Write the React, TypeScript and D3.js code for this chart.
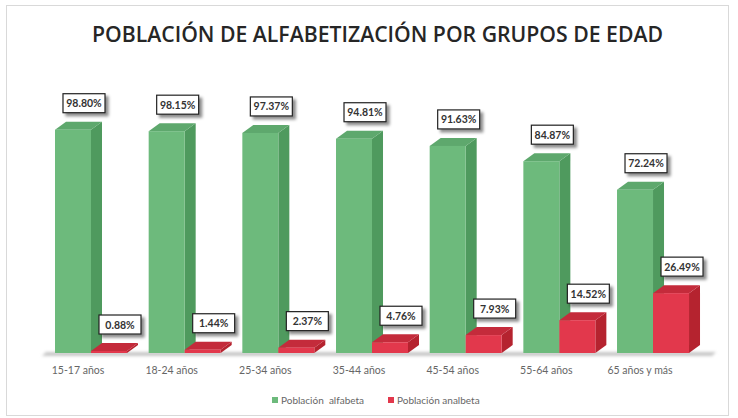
import React from "react";
import * as d3 from "d3";

const categories = ["15-17 años", "18-24 años", "25-34 años", "35-44 años", "45-54 años", "55-64 años", "65 años y más"];
const alfabeta = [98.8, 98.15, 97.37, 94.81, 91.63, 84.87, 72.24];
const analfabeta = [0.88, 1.44, 2.37, 4.76, 7.93, 14.52, 26.49];
const seriesNames = ["Población  alfabeta", "Población analbeta"];

const W = 738, H = 418;
const DX = 11, DY = 8, BW = 36;

const green = { front: "#6dba7c", side: "#4f9a5e", top: "#5ea86d" };
const red = { front: "#e2384c", side: "#b5232f", top: "#c42b3b" };

export default function App() {
  const x = d3.scaleBand<string>().domain(categories).range([55, 55 + 93.67 * categories.length]).paddingInner(0).paddingOuter(0);
  const y = d3.scaleLinear().domain([0, 100]).range([353, 127]);
  const fmt = (v: number) => v.toFixed(2) + "%";

  const bar3d = (x0: number, v: number, c: { front: string; side: string; top: string }, key: string) => {
    const y0 = y(0), y1 = y(v);
    const x1 = x0 + BW;
    return (
      <g key={key}>
        <polygon points={`${x1},${y1} ${x1 + DX},${y1 - DY} ${x1 + DX},${y0 - DY} ${x1},${y0}`} fill={c.side} />
        <polygon points={`${x0},${y1} ${x0 + DX},${y1 - DY} ${x1 + DX},${y1 - DY} ${x1},${y1}`} fill={c.top} />
        <rect x={x0} y={y1} width={BW} height={Math.max(0, y0 - y1)} fill={c.front} />
      </g>
    );
  };

  const label = (x0: number, v: number, key: string) => {
    const cx = x0 + BW / 2 + 11;
    const by = y(v) - 17;
    const bw = 42, bh = 19;
    return (
      <g key={key}>
        <rect x={cx - bw / 2} y={by - bh} width={bw} height={bh} fill="#ffffff" stroke="#222" strokeWidth={1.2} filter="url(#shadow)" />
        <text x={cx} y={by - 5.5} textAnchor="middle" fontFamily="Lato, 'Open Sans', sans-serif" fontWeight={700} fontSize={10.5} fill="#333">{fmt(v)}</text>
      </g>
    );
  };

  return (
    <svg width={W} height={H} style={{ position: "absolute", left: 0, top: 0, background: "#fff" }}>
      <defs>
        <filter id="shadow" x="-30%" y="-30%" width="170%" height="180%">
          <feDropShadow dx={3} dy={3} stdDeviation={1.8} floodColor="#000" floodOpacity={0.45} />
        </filter>
        <filter id="blur" x="-10%" y="-200%" width="120%" height="500%">
          <feGaussianBlur stdDeviation={1.5} />
        </filter>
      </defs>
      <rect x={6.5} y={5.5} width={722} height={410} fill="#fff" stroke="#d9d9d9" strokeWidth={1} />
      <text x={377.5} y={42} textAnchor="middle" fontFamily="'Open Sans', Lato, sans-serif" fontWeight={600} fontSize={22} fill="#262626" textLength={571} lengthAdjust="spacingAndGlyphs">POBLACIÓN DE ALFABETIZACIÓN POR GRUPOS DE EDAD</text>

      {/* floor */}
      <polygon points={`42,356 ${x(categories[6])! + 2 * BW + DX + 12},356 ${x(categories[6])! + 2 * BW + DX + 16},352 46,352`} fill="#c8c8c8" filter="url(#blur)" />

      {categories.map((c, i) => (
        <g key={c}>
          {bar3d(x(c)!, alfabeta[i], green, "g" + i)}
          {bar3d(x(c)! + BW, analfabeta[i], red, "r" + i)}
        </g>
      ))}
      {categories.map((c, i) => (
        <g key={"l" + c}>
          {label(x(c)!, alfabeta[i], "lg" + i)}
          {label(x(c)! + BW, analfabeta[i], "lr" + i)}
        </g>
      ))}
      {categories.map((c) => (
        <text key={"t" + c} x={x(c)! + 23} y={374} textAnchor="middle" fontFamily="Lato, 'Open Sans', sans-serif" fontSize={10.5} fill="#666">{c}</text>
      ))}

      {/* legend */}
      <rect x={272} y={397} width={6} height={6} fill={green.front} />
      <text x={281} y={403.5} fontFamily="Lato, 'Open Sans', sans-serif" fontSize={10} fill="#666" style={{ whiteSpace: "pre" }}>{seriesNames[0]}</text>
      <rect x={388} y={397} width={6} height={6} fill={red.front} />
      <text x={397} y={403.5} fontFamily="Lato, 'Open Sans', sans-serif" fontSize={10} fill="#666">{seriesNames[1]}</text>
    </svg>
  );
}
